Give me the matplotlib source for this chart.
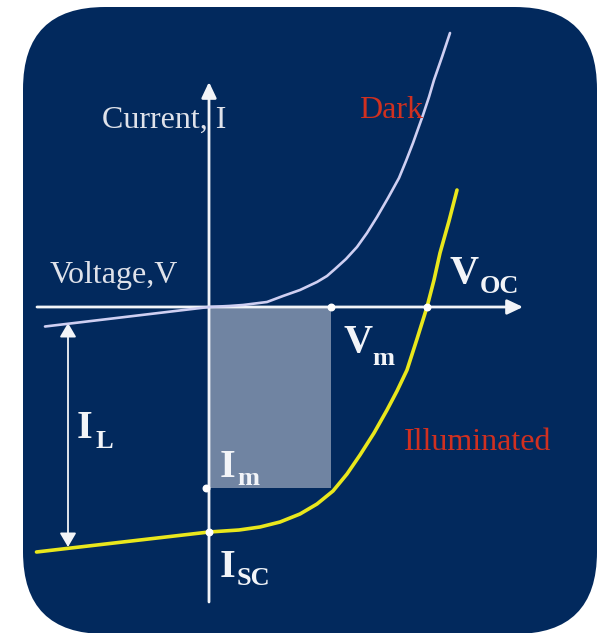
import matplotlib
matplotlib.use("Agg")
import matplotlib.pyplot as plt
from matplotlib.patches import FancyBboxPatch, Rectangle

# values (origin = axis crossing, units ~ pixels, I up)
dark_v = [-164, 0, 20, 34, 46, 58, 74, 91, 108, 118, 126, 137, 148, 158, 168, 179,
          190, 197, 204, 209, 214, 220, 225, 233, 241]
dark_i = [-19.5, 0, 1, 2, 3.5, 5, 11, 17, 25, 31, 38, 48, 60, 74, 90, 109,
          129, 146, 164, 178, 192, 210, 227, 250, 274]

light_v = [-172.5, 0, 30, 51, 71, 91, 108, 124, 138, 151, 165, 178, 188, 198, 208,
           218, 225, 231, 240, 248]
light_i = [-245, -225, -223, -220, -215, -207, -197, -184, -167, -148, -126, -103,
           -84, -63, -32, 0, 27, 54, 86, 117]

v_m = 122
i_m = -181
v_oc = 218
i_sc = -225
il_v = -141
il_top = -16
il_bottom = -240

navy = "#02295d"
fg = "#f2f4f8"
red = "#d03020"

fig = plt.figure(figsize=(6.04, 6.33), dpi=100)
ax = fig.add_axes([0, 0, 1, 1])
ax.set_xlim(-209, 395)
ax.set_ylim(-326, 307)
ax.axis("off")

# rounded navy panel
ax.add_patch(FancyBboxPatch((-186, -327), 574, 627,
                            boxstyle="round,pad=0,rounding_size=82",
                            fc=navy, ec="none", zorder=0))

# max power rectangle
ax.add_patch(Rectangle((0, i_m), v_m, -i_m, fc="#7084a2", ec="none", zorder=1))

# axes with arrows
arw = dict(arrowstyle="-|>,head_length=0.95,head_width=0.45", lw=2, color=fg,
           shrinkA=0, shrinkB=0, mutation_scale=10)
ax.annotate("", xy=(314, 0), xytext=(-172, 0), arrowprops=arw, zorder=3)
ax.annotate("", xy=(0, 225), xytext=(0, -295), arrowprops=arw, zorder=3)

# curves
ax.plot(dark_v, dark_i, color="#cfcff2", lw=1.9, solid_capstyle="round",
        solid_joinstyle="round", zorder=4)
ax.plot(light_v, light_i, color="#e9e71c", lw=2.6, solid_capstyle="round",
        solid_joinstyle="round", zorder=4)

# I_L double arrow
ax.annotate("", xy=(il_v, il_bottom), xytext=(il_v, il_top),
            arrowprops=dict(arrowstyle="<|-|>,head_length=0.85,head_width=0.5", lw=1.3,
                            color=fg, shrinkA=0, shrinkB=0, mutation_scale=10), zorder=3)

# marked points
ax.scatter([v_m, v_oc, -3, 0], [0, 0, i_m, i_sc], s=22, color="white", zorder=5)

serif = "Liberation Serif"
ax.text(-107, 179, "Current, I", fontsize=23, family=serif, color="#dfe2ea", zorder=6)
ax.text(-159, 24, "Voltage,V", fontsize=23, family=serif, color="#dfe2ea", zorder=6)
ax.text(150, 189, "Dark", fontsize=23, family=serif, color=red, zorder=6)
ax.text(195, -143, "Illuminated", fontsize=23, family=serif, color=red, zorder=6)

big = dict(fontsize=29, family=serif, weight="bold", color=fg, zorder=6)
sub = dict(fontsize=19, family=serif, weight="bold", color=fg, zorder=6)
ax.text(241, 24, "V", **big)
ax.text(271, 14, "OC", **sub)
ax.text(134, -45, "V", **big)
ax.text(163, -58, "m", **sub)
ax.text(11, -170, "I", **big)
ax.text(28, -178, "m", **sub)
ax.text(11, -270, "I", **big)
ax.text(28, -278, "SC", **sub)
ax.text(-132, -131, "I", **big)
ax.text(-114, -141, "L", **sub)

fig.savefig("out.png", dpi=100, facecolor="white")
